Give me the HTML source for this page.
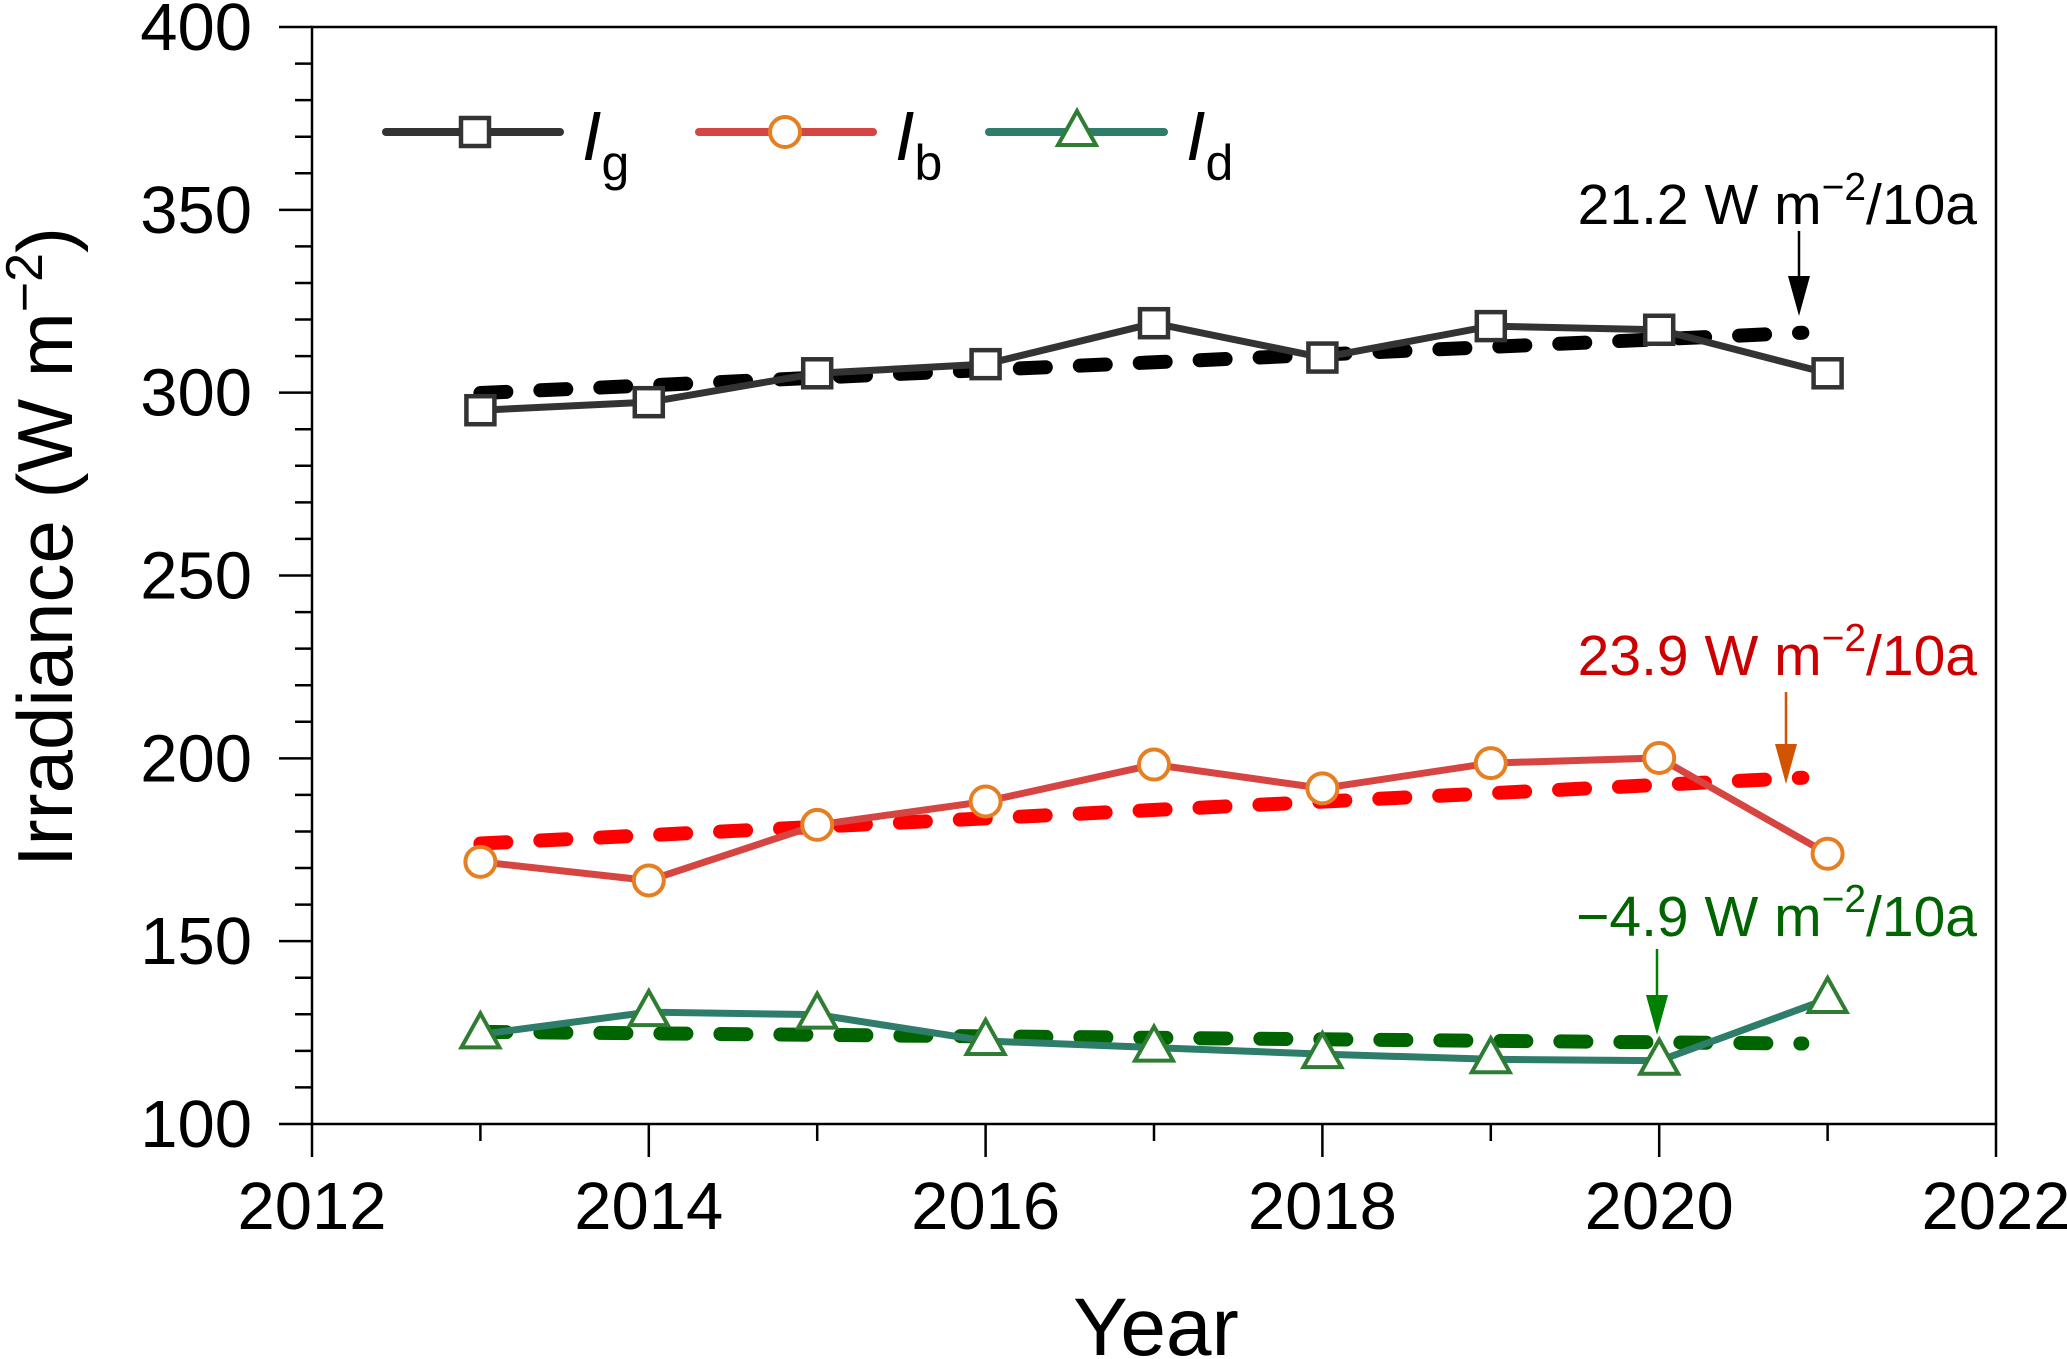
<!DOCTYPE html>
<html><head><meta charset="utf-8"><style>
html,body{margin:0;padding:0;background:#fff;}
svg{display:block;font-family:"Liberation Sans",Arial,sans-serif;}
</style></head><body>
<svg id="chart" width="2067" height="1359" viewBox="0 0 2067 1359" xmlns="http://www.w3.org/2000/svg"></svg>
<script>
const years = [2013,2014,2015,2016,2017,2018,2019,2020,2021];
const igValues = [295.2,297.4,305.3,307.8,319.0,309.6,318.2,317.2,305.3];
const ibValues = [171.7,166.6,181.8,188.2,198.3,191.8,198.7,200.1,173.9];
const idValues = [124.5,130.6,129.9,122.7,120.9,119.1,117.7,117.3,134.2];
const trendX = [2013,2020.85];
const igTrend = [299.9,316.4];
const ibTrend = [176.7,194.7];
const idTrend = [125.2,122.0];
const xTicks = [2012,2014,2016,2018,2020,2022];
const yTicks = [100,150,200,250,300,350,400];

const X0=312,X1=1996,Y0=1124,Y1=27;
const sx=v=>X0+(v-2012)/10*(X1-X0);
const sy=v=>Y0-(v-100)/300*(Y0-Y1);
const svg=document.getElementById('chart');
const NS='http://www.w3.org/2000/svg';
function mk(tag,attrs,parent){const e=document.createElementNS(NS,tag);for(const k in attrs)e.setAttribute(k,attrs[k]);(parent||svg).appendChild(e);return e;}

const axes=mk('g',{});


mk('rect',{x:X0,y:Y1,width:X1-X0,height:Y0-Y1,fill:'none',stroke:'#000','stroke-width':2.5},axes);
for(let v=100;v<=400;v+=10){const major=v%50===0;mk('line',{x1:X0-(major?33:17),x2:X0,y1:sy(v),y2:sy(v),stroke:'#000','stroke-width':2.5},axes);}
for(let v=2012;v<=2022;v++){const major=v%2===0;mk('line',{x1:sx(v),x2:sx(v),y1:Y0,y2:Y0+(major?33:17),stroke:'#000','stroke-width':2.5},axes);}
yTicks.forEach(v=>{const t=mk('text',{x:X0-60,y:sy(v)+23,'text-anchor':'end','font-size':67},axes);t.textContent=v;

});
xTicks.forEach(v=>{const t=mk('text',{x:sx(v),y:Y0+105,'text-anchor':'middle','font-size':67},axes);t.textContent=v;

});
const yt=mk('text',{x:0,y:0,transform:'translate(72,547) rotate(-90)','text-anchor':'middle','font-size':78});
yt.innerHTML='Irradiance (W m<tspan dy="-30" font-size="52">−2</tspan><tspan dy="30">)</tspan>';


const xt=mk('text',{x:1156,y:1355,'text-anchor':'middle','font-size':82});xt.textContent='Year';



function marker(type,cx,cy,col,g){
 if(type==='sq')return mk('rect',{x:cx-14,y:cy-14,width:28,height:28,fill:'#fff',stroke:col,'stroke-width':4.5},g);
 if(type==='ci')return mk('circle',{cx,cy,r:15,fill:'#fff',stroke:col,'stroke-width':4},g);
 return mk('polygon',{points:`${cx},${cy-21} ${cx-19},${cy+13} ${cx+19},${cy+13}`,fill:'#fff',stroke:col,'stroke-width':4},g);
}
const series=[
 {name:'ig',vals:igValues,tr:igTrend,line:'#333333',mc:'#333333',tc:'#000000',m:'sq'},
 {name:'ib',vals:ibValues,tr:ibTrend,line:'#d64541',mc:'#e67e22',tc:'#ff0000',m:'ci'},
 {name:'id',vals:idValues,tr:idTrend,line:'#2e7d6a',mc:'#2e7d32',tc:'#006400',m:'tr'}
];
series.forEach(s=>{
 const g=mk('g',{});
 
 
 const tl=mk('line',{x1:sx(trendX[0]),y1:sy(s.tr[0]),x2:sx(trendX[1]),y2:sy(s.tr[1]),stroke:s.tc,'stroke-width':14,'stroke-dasharray':'26 34','stroke-linecap':'round'},g);
 
 
 const pl=mk('polyline',{points:years.map((y,i)=>sx(y)+','+sy(s.vals[i])).join(' '),fill:'none',stroke:s.line,'stroke-width':7},g);
 
 
 years.forEach((y,i)=>{const mm=marker(s.m,sx(y),sy(s.vals[i]),s.mc,g);
  
  });
});

const lg=mk('g',{});


const leg=[[386,560,475,'sq','#333333','#333333','g'],[699,873,785,'ci','#d64541','#e67e22','b'],[989,1164,1077,'tr','#2e7d6a','#2e7d32','d']];
leg.forEach(l=>{
 const e=mk('g',{},lg);
 
 
 mk('line',{x1:l[0],x2:l[1],y1:132,y2:132,stroke:l[4],'stroke-width':8,'stroke-linecap':'round'},e);
 marker(l[3],l[2],132,l[5],e);
 const t=mk('text',{x:l[1]+22,y:160,'font-size':70},e);
 t.innerHTML='<tspan font-style="italic">I</tspan><tspan dy="20" font-size="50">'+l[6]+'</tspan>';
});

const ann=[['21.2',224,'#000',1799,231,316,'#000'],['23.9',675,'#cc0000',1786,692,784,'#d35400'],['−4.9',936,'#006400',1657,949,1035,'#008000']];
ann.forEach(a=>{
 const g=mk('g',{});
 
 
 const t=mk('text',{x:1977,y:a[1],'text-anchor':'end','font-size':57,fill:a[2]},g);
 t.innerHTML=a[0]+' W m<tspan dy="-24" font-size="39">−2</tspan><tspan dy="24">/10a</tspan>';
 mk('line',{x1:a[3],x2:a[3],y1:a[4],y2:a[5]-30,stroke:a[6],'stroke-width':2.5},g);
 mk('polygon',{points:`${a[3]-11},${a[5]-40} ${a[3]+11},${a[5]-40} ${a[3]},${a[5]}`,fill:a[6]},g);
});
</script>
</body></html>
